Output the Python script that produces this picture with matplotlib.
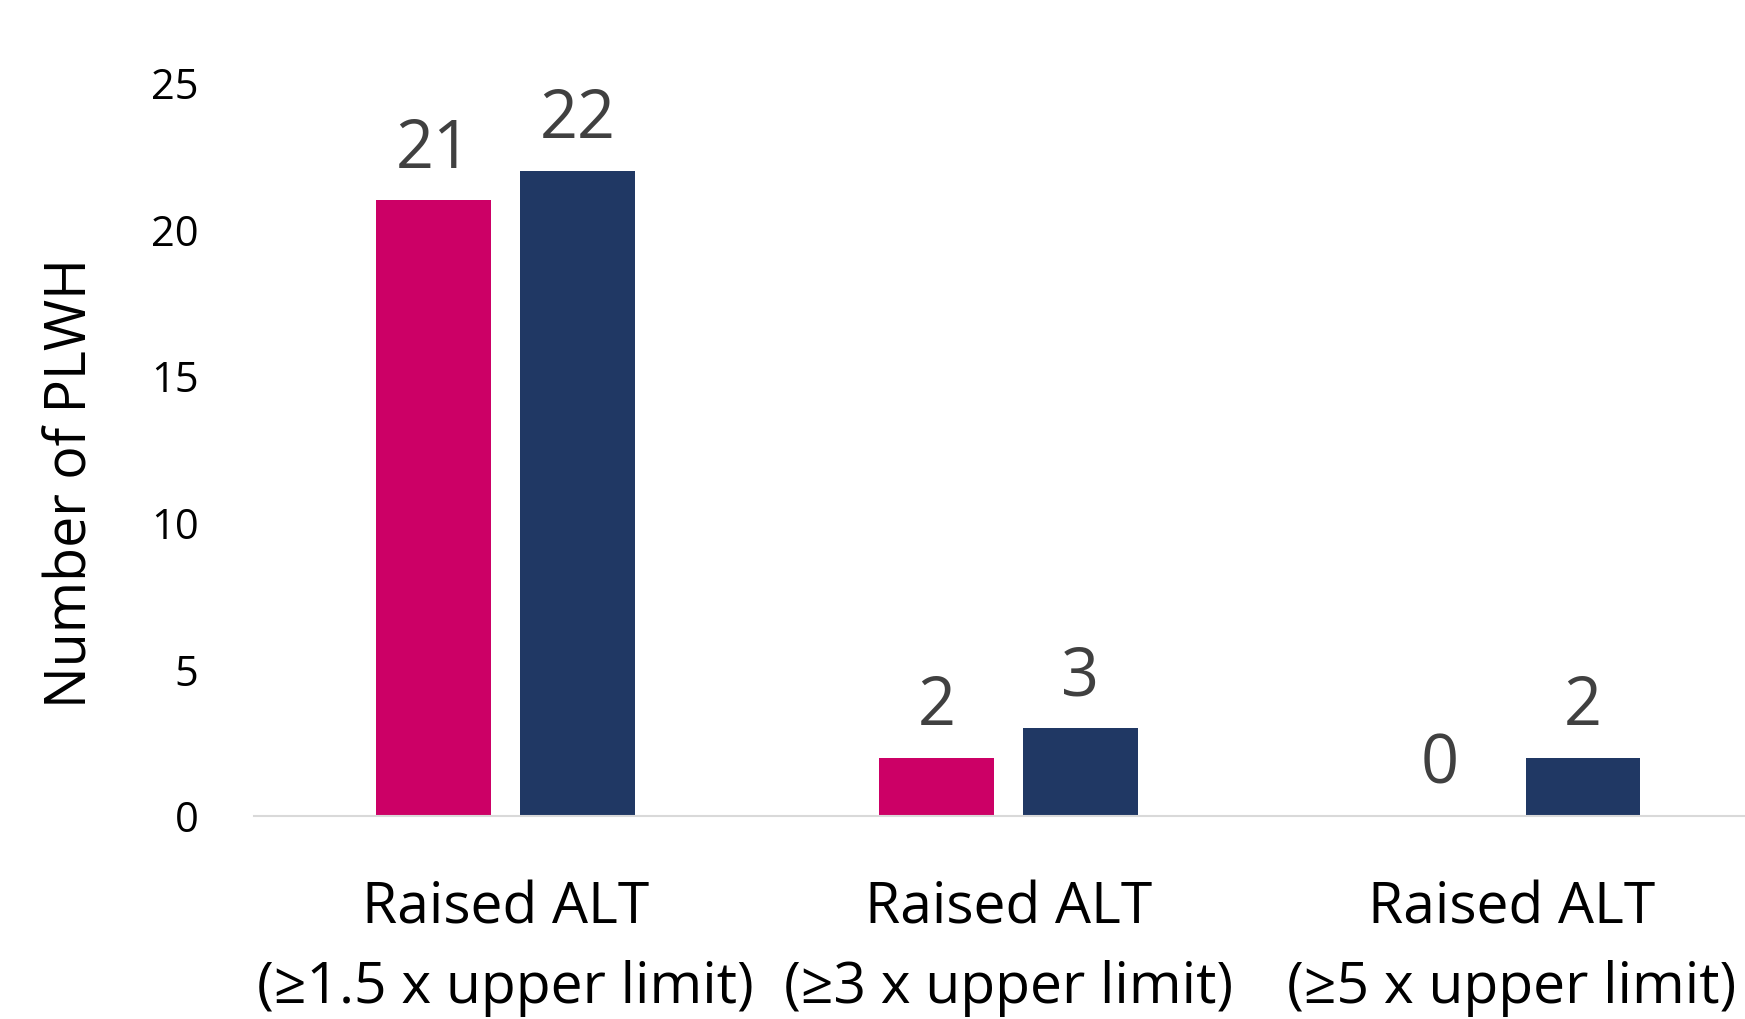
import matplotlib
matplotlib.use("Agg")
import matplotlib.pyplot as plt
import numpy as np

# data
categories = ["Raised ALT\n(\u22651.5 x upper limit)",
              "Raised ALT\n(\u22653 x upper limit)",
              "Raised ALT\n(\u22655 x upper limit)"]
series_a = [21, 2, 0]
series_b = [22, 3, 2]
yticks = [0, 5, 10, 15, 20, 25]

plt.rcParams['font.family'] = ['Open Sans', 'DejaVu Sans']

fig = plt.figure(figsize=(17.45, 10.19), dpi=100)
ax = fig.add_axes([0.1456, 0.199, 0.8544, 0.7195])

ind = np.arange(len(categories))
width = 0.228
off = 0.143

bars_a = ax.bar(ind - off, series_a, width, color='#CC0066')
bars_b = ax.bar(ind + off, series_b, width, color='#203864')

for bars in (bars_a, bars_b):
    ax.bar_label(bars, padding=12, fontsize=48, color='#404040')

ax.set_xlim(-0.5, 2.465)
ax.set_ylim(0, 25)
ax.set_yticks(yticks)
ax.tick_params(axis='y', length=0, labelsize=30, pad=40)
ax.tick_params(axis='x', length=0, labelsize=41, pad=46)
ax.set_xticks(ind)
ax.set_xticklabels(categories, linespacing=1.53)
ax.set_ylabel("Number of PLWH", fontsize=40)
ax.yaxis.set_label_coords(-0.103, 0.454)

for s in ['top', 'right', 'left']:
    ax.spines[s].set_visible(False)
ax.spines['bottom'].set_color('#d9d9d9')
ax.spines['bottom'].set_linewidth(1.5)

fig.savefig("out.png", dpi=100)
